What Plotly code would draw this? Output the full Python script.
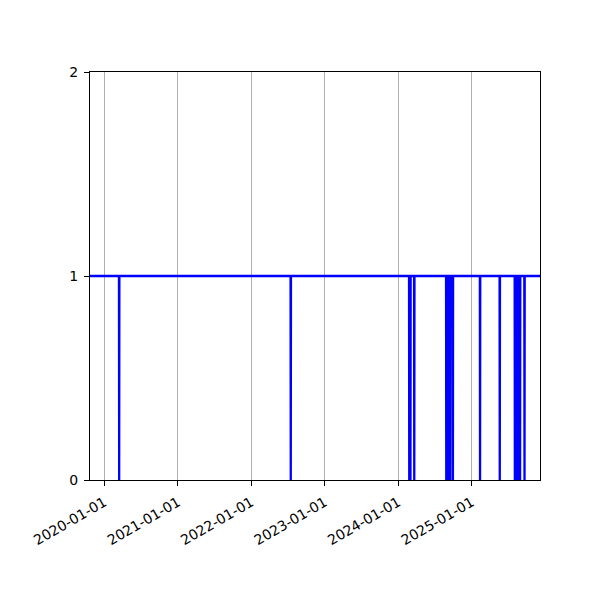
import plotly.graph_objects as go
import pandas as pd

# dates where the series drops to 0 (value is 1 everywhere else)
dip_dates = ["2020-03-15", "2022-07-16",
             "2024-02-25", "2024-03-02", "2024-03-21",
             "2024-08-27", "2024-09-01", "2024-09-06", "2024-09-11", "2024-09-16",
             "2024-09-29",
             "2025-02-11", "2025-05-20",
             "2025-08-03", "2025-08-08", "2025-08-13", "2025-08-18", "2025-08-23", "2025-08-29",
             "2025-09-20"]
start_date = "2019-10-01"
end_date = "2025-12-31"
year_ticks = ["2020-01-01", "2021-01-01", "2022-01-01", "2023-01-01", "2024-01-01", "2025-01-01"]

x = [pd.Timestamp(start_date)]
y = [1]
for d in dip_dates:
    t = pd.Timestamp(d)
    x += [t - pd.Timedelta(days=1), t, t + pd.Timedelta(days=1)]
    y += [1, 0, 1]
x.append(pd.Timestamp(end_date))
y.append(1)

fig = go.Figure(go.Scatter(x=x, y=y, mode='lines', line=dict(color='#0000ff', width=2.3)))

# page body has an 8px margin, so the plot box is shifted back by that
fig.update_layout(
    width=600, height=600,
    margin=dict(l=82, r=68, t=64, b=128),
    plot_bgcolor='white', paper_bgcolor='white',
    showlegend=False,
    font=dict(family='DejaVu Sans', size=14, color='black'),
)
fig.update_xaxes(
    range=["2019-10-22", "2025-12-06"],
    tickvals=year_ticks, ticktext=year_ticks, tickangle=-30,
    showgrid=True, gridcolor='#b0b0b0', gridwidth=0.8,
    showline=True, linecolor='black', linewidth=1, mirror=True,
    ticks='outside', ticklen=5, tickcolor='black', zeroline=False,
    ticklabelstandoff=3,
)
fig.update_yaxes(
    range=[0, 2], tickvals=[0, 1, 2],
    showgrid=False,
    showline=True, linecolor='black', linewidth=1, mirror=True,
    ticks='outside', ticklen=5, tickcolor='black', zeroline=False,
    ticklabelstandoff=3,
)

fig.write_html("out.html")
